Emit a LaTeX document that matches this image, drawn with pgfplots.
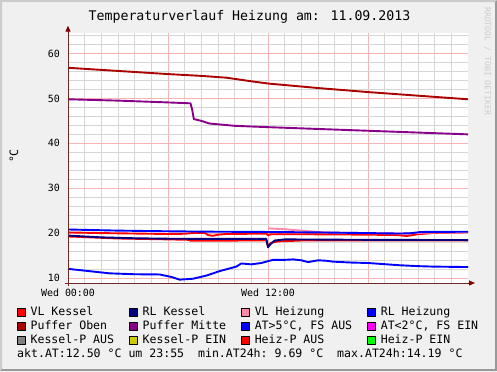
\documentclass[border=0pt]{standalone}
\usepackage{fontspec}
\setmainfont{DejaVu Sans Mono}
\usepackage{pgfplots}
\pgfplotsset{compat=1.18}
\usetikzlibrary{arrows.meta}
\definecolor{bgc}{HTML}{F0F0F0}
\definecolor{shadeA}{HTML}{CBCBCB}
\definecolor{shadeB}{HTML}{999999}
\definecolor{gridgray}{HTML}{D6D6D6}
\definecolor{gridred}{HTML}{F7B4B4}
\definecolor{axiscol}{HTML}{6E2828}
\definecolor{arrowcol}{HTML}{7F0000}
\definecolor{cVLK}{HTML}{FF0000}
\definecolor{cRLK}{HTML}{000080}
\definecolor{cVLH}{HTML}{FF88AA}
\definecolor{cRLH}{HTML}{0000FF}
\definecolor{cPO}{HTML}{AA0000}
\definecolor{cPM}{HTML}{880088}
\definecolor{cAT}{HTML}{0000FF}
\definecolor{cATl}{HTML}{FF00FF}
\definecolor{cKPA}{HTML}{808080}
\definecolor{cKPE}{HTML}{CCCC00}
\definecolor{cHPA}{HTML}{FF0000}
\definecolor{cHPE}{HTML}{00FF00}
\newcommand{\swatch}[1]{\addlegendimage{legend image code/.code={\draw[fill=#1,draw=black,line width=0.6bp] (0bp,-4bp) rectangle (8bp,4bp);}}}
\begin{document}
\begin{tikzpicture}[x=1bp,y=1bp]
\fill[bgc] (0,0) rectangle (497,-371);
\fill[shadeA] (0,0) -- (497,0) -- (495,-2) -- (2,-2) -- (2,-369) -- (0,-371) -- cycle;
\fill[shadeB] (497,0) -- (497,-371) -- (0,-371) -- (2,-369) -- (495,-369) -- (495,-2) -- cycle;
\node[font=\fontsize{13.3}{15}\selectfont] at (249.5,-17) {Temperaturverlauf Heizung am: 11.09.2013};
\node[rotate=90, font=\fontsize{11.6}{13}\selectfont] at (14,-156) {°C};
\node[rotate=-90, text=black!20, font=\fontsize{8.2}{9}\selectfont, anchor=west, inner sep=0pt] at (487.5,-7) {RRDTOOL / TOBI OETIKER};
\node[anchor=base west, inner sep=0pt, font=\fontsize{11.6}{13}\selectfont] at (17,-357.2) {akt.AT:12.50~°C~um~23:55~~min.AT24h:~9.69~°C~~max.AT24h:14.19~°C};
\begin{axis}[
  at={(68bp,-283bp)}, anchor=south west,
  scale only axis, width=400bp, height=250.3bp,
  xmin=0, xmax=24, ymin=8.95, ymax=64.6,
  clip=false,
  axis background/.style={fill=white},
  axis line style={draw=none},
  major tick length=0pt, minor tick length=0pt,
  xtick={0,6,12,18}, xticklabels={Wed 00:00,,Wed 12:00,},
  minor xtick={1,2,3,4,5,7,8,9,10,11,13,14,15,16,17,19,20,21,22,23},
  ytick={10,20,30,40,50,60},
  minor ytick={12,14,16,18,22,24,26,28,32,34,36,38,42,44,46,48,52,54,56,58,62,64},
  grid=both,
  minor grid style={color=gridgray, line width=0.6bp},
  major grid style={color=gridred, line width=0.6bp},
  tick label style={font=\fontsize{10}{12}\selectfont},
  /pgf/number format/assume math mode=true,
  yticklabel style={anchor=east, inner sep=0pt, xshift=-8bp},
  xticklabel style={anchor=north, inner sep=0pt, yshift=-6bp},
  legend columns=4,
  legend cell align=left,
  legend style={at={(-0.1275,-0.0947)}, anchor=north west, draw=none, fill=none,
    inner sep=0pt, outer sep=0pt, font=\fontsize{11.6}{13}\selectfont,
    nodes={inner sep=0pt, text height=8.5bp, text depth=2.5bp},
    row sep=3bp,
    /tikz/every odd column/.append style={column sep=5bp},
    /tikz/every even column/.append style={column sep=15bp}},
  every axis plot/.append style={line width=1.9bp, line join=round},
  after end axis/.code={
    \draw[axiscol, line width=1bp] (rel axis cs:0,0) ++(0,-3bp) -- (rel axis cs:0,1);
    \draw[axiscol, line width=1bp] (rel axis cs:0,0) ++(-3bp,0) -- (rel axis cs:1,0);
    \draw[arrowcol, line width=1bp, -{Triangle[length=6bp,width=5bp]}] (rel axis cs:0,1) -- ++(0,7bp);
    \draw[arrowcol, line width=1bp, -{Triangle[length=6bp,width=5bp]}] (rel axis cs:1,0) -- ++(7bp,0);
  },
]
\swatch{cVLK}\addlegendentry{VL Kessel}
\swatch{cRLK}\addlegendentry{RL Kessel}
\swatch{cVLH}\addlegendentry{VL Heizung}
\swatch{cRLH}\addlegendentry{RL Heizung}
\swatch{cPO}\addlegendentry{Puffer Oben}
\swatch{cPM}\addlegendentry{Puffer Mitte}
\swatch{cAT}\addlegendentry{AT>5°C, FS AUS}
\swatch{cATl}\addlegendentry{AT<2°C, FS EIN}
\swatch{cKPA}\addlegendentry{Kessel-P AUS}
\swatch{cKPE}\addlegendentry{Kessel-P EIN}
\swatch{cHPA}\addlegendentry{Heiz-P AUS}
\swatch{cHPE}\addlegendentry{Heiz-P EIN}
% lower red (Heiz-P AUS)
\addplot[cHPA, forget plot] coordinates {(0,19.3) (3,18.85) (6,18.65) (7.25,18.55) (7.35,18.35) (9,18.35) (11.9,18.45) (12.0,17.2) (12.2,17.9) (12.6,18.2) (14,18.4) (24,18.4)};
% VL Kessel
\addplot[cVLK, forget plot] coordinates {(0,20.2) (2,20.05) (4,19.95) (6,19.85) (7,19.9) (7.6,20.1) (8.2,20.1) (8.4,19.6) (8.7,19.45) (9.0,19.7) (9.5,19.85) (11,19.9) (11.9,19.9) (12.0,19.6) (12.2,19.8) (14,19.8) (16,19.75) (18,19.7) (19.8,19.6) (20.3,19.4) (21,19.8) (22,20.1) (24,20.25)};
% RL Kessel
\addplot[cRLK, forget plot] coordinates {(0,19.5) (2,19.1) (4,18.9) (6,18.8) (9,18.75) (11.9,18.75) (12.0,16.9) (12.15,17.6) (12.4,18.4) (13,18.65) (18,18.55) (24,18.5)};
% VL Heizung
\addplot[cVLH, forget plot] coordinates {(12.0,21.1) (13,20.9) (14,20.6) (15,20.3) (16,20.15) (18,20.05) (20,19.95) (21,20.1) (24,20.3)};
% RL Heizung
\addplot[cRLH, forget plot] coordinates {(0,20.85) (3,20.6) (6,20.45) (9,20.35) (12,20.3) (15,20.2) (18,20.05) (19.9,19.95) (20.5,20.0) (21.2,20.3) (24,20.35)};
% Puffer Oben
\addplot[cPO, forget plot] coordinates {(0,56.8) (3,56.1) (6,55.4) (8,55.0) (9.5,54.6) (11,53.8) (12,53.3) (15,52.3) (18,51.4) (21,50.6) (24,49.8)};
% Puffer Mitte
\addplot[cPM, forget plot] coordinates {(0,49.8) (3,49.5) (6,49.1) (7.35,48.9) (7.45,47.5) (7.55,45.4) (8,45.0) (8.5,44.4) (10,43.9) (12,43.6) (18,42.8) (24,42.0)};
% AT
\addplot[cAT, forget plot] coordinates {(0,12.1) (1,11.7) (2.5,11.1) (4,10.9) (5.5,10.85) (6.2,10.3) (6.7,9.7) (7.5,9.9) (8.3,10.6) (9.1,11.6) (10.1,12.6) (10.4,13.3) (11,13.1) (11.6,13.4) (12.3,14.1) (13,14.1) (13.5,14.2) (14,14.0) (14.4,13.6) (15,14.0) (15.5,13.9) (15.9,13.7) (17,13.5) (18,13.4) (19.9,12.9) (21,12.7) (21.9,12.6) (24,12.5)};
\end{axis}
\end{tikzpicture}
\end{document}
